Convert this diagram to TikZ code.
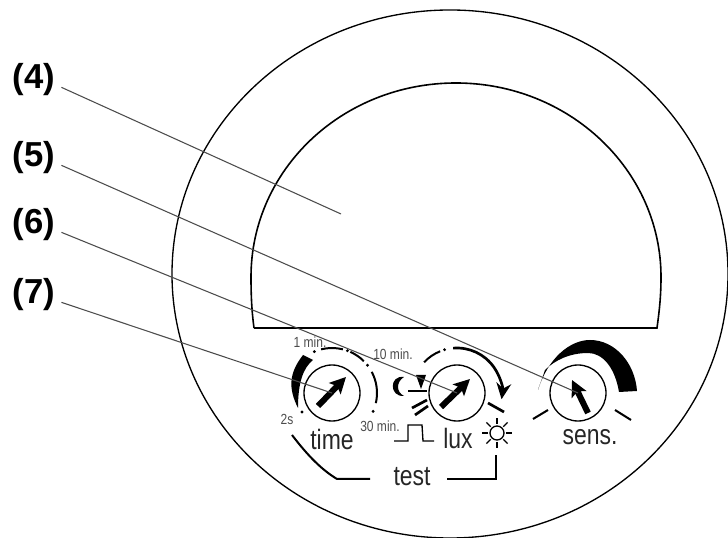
\documentclass[tikz,border=0pt]{standalone}
\usepackage{fontspec}
\setmainfont{Liberation Sans}
\newfontfamily\narrowfont[FakeStretch=.82]{Liberation Sans}
\usetikzlibrary{arrows.meta}
\tikzset{
  callout/.style={font=\bfseries\fontsize{26}{26}\selectfont,inner sep=4.5pt},
  leader/.style={line width=.8pt,draw=black!70},
  knob/.style={circle,draw,line width=1pt,minimum size=42pt,inner sep=0pt},
  pointer/.style={line width=4.5pt,-{Stealth[length=12pt,width=12pt,inset=2.5pt]}},
  dial/.style={line width=1.5pt},
  knoblabel/.style={font=\narrowfont\fontsize{21}{21}\selectfont,inner sep=0pt,text=black!85},
  scalelabel/.style={font=\narrowfont\fontsize{11}{11}\selectfont,inner sep=0pt,text=black!70}
}
\begin{document}
\begin{tikzpicture}[x=.75pt,y=.75pt]
        \useasboundingbox (0,0) rectangle (728,538);
        \draw[line width=1pt] (450,264) ellipse [x radius=278,y radius=264];
        \draw[line width=1.2pt] (254,210) -- (657,210) .. controls (659,225) and (661,240) .. (661,261) .. controls (661,368) and (569,455) .. (456,455) .. controls (342,455) and (251,368) .. (251,261) .. controls (251,240) and (252,225) .. (254,210);
        % knobs
        \node[knob] (time) at (332,145) {};
        \node[knob] (lux) at (457,145) {};
        \node[knob] (sens) at (578,145) {};
        \draw[pointer] (318,132) -- (346,161);
        \draw[pointer] (441,131) -- (470,159);
        \draw[pointer] (588,125) -- (572,158);
        % time scale
        \fill (303,183) -- (313,178) .. controls (303,170) and (298,155) .. (298,130) .. controls (288,150) and (289,165) .. cycle;
        \draw[dial] (332,145) ++(104:45) arc[start angle=104,end angle=76,radius=45];
        \draw[dial] (332,145) ++(66:45) arc[start angle=66,end angle=45,radius=45];
        \draw[dial] (332,145) ++(28:45) arc[start angle=28,end angle=-13,radius=45];
        \foreach \a in {113,70,38,-24}
          \fill (332,145) ++(\a:45) circle (1.2pt);
        \fill (302,126) circle (1.2pt);
        \node[scalelabel] (onemin) at (310,196) {1 min.};
        \node[scalelabel] (tenmin) at (393,184) {10 min.};
        \node[scalelabel] (thirtymin) at (380,112) {30 min.};
        \node[scalelabel] (twosec) at (287,119) {2s};
        % lux scale
        \draw[dial] (457,145) ++(137:45) arc[start angle=137,end angle=112,radius=45];
        \fill (457,145) ++(106:45) circle (1.2pt);
        \draw[line width=2pt,-{Stealth[length=12pt,width=11pt]}] (457,145) ++(95:45) arc[start angle=95,end angle=-8,radius=45];
        \draw[line width=2pt] (488,135) -- (504,126);
        \fill (416,163) -- (426,163) -- (421,149) -- cycle;
        \draw[line width=2pt] (408,147) -- (427,147);
        \draw[line width=2pt] (412,130) -- (427,138);
        \draw[line width=2pt] (415,123) -- (428,132);
        \fill (404,161) .. controls (389,163) and (389,141) .. (404,142) .. controls (396,146) and (396,156) .. cycle;
        \draw[line width=1pt] (394,97) -- (408,97) -- (408,113) -- (422,113) -- (423,97) -- (434,97);
        % sun
        \draw[line width=1pt] (497,105) circle (7);
        \foreach \a in {0,45,...,315}
          \draw[line width=1pt] (497,105) ++(\a:9) -- ++(\a:6);
        % sens scale
        \fill (538,148) .. controls (548,180) and (570,198) .. (590,198) .. controls (615,198) and (635,175) .. (637,147) -- (619,146) .. controls (615,170) and (603,185) .. (588,185) .. controls (570,185) and (555,178) .. (545,168) -- cycle;
        \draw[line width=1.5pt] (533,119) -- (548,128);
        \draw[line width=1.5pt] (615,128) -- (631,118);
        % labels
        \node[knoblabel] (timetext) at (332,99) {time};
        \node[knoblabel] (luxtext) at (458,100) {lux};
        \node[knoblabel] (senstext) at (590,101) {sens.};
        \node[knoblabel] (testtext) at (412,61) {test};
        \draw[line width=1.5pt] (292,103) .. controls (308,82) and (322,68) .. (337,59) -- (370,59);
        \draw[line width=1.5pt] (447,59) -- (496,59) -- (496,83);
        % callouts
        \node[callout] (c4) at (34,458) {(4)};
        \node[callout] (c5) at (34,380) {(5)};
        \node[callout] (c6) at (34,313) {(6)};
        \node[callout] (c7) at (34,243) {(7)};
        \coordinate (dome) at (341,324);
        \draw[leader] (c4.-15) -- (dome);
        \draw[leader] (c5.-15) -- (sens.center);
        \draw[leader] (c6.-15) -- (lux.center);
        \draw[leader] (c7.-15) -- (time.center);
    \end{tikzpicture}
\end{document}
